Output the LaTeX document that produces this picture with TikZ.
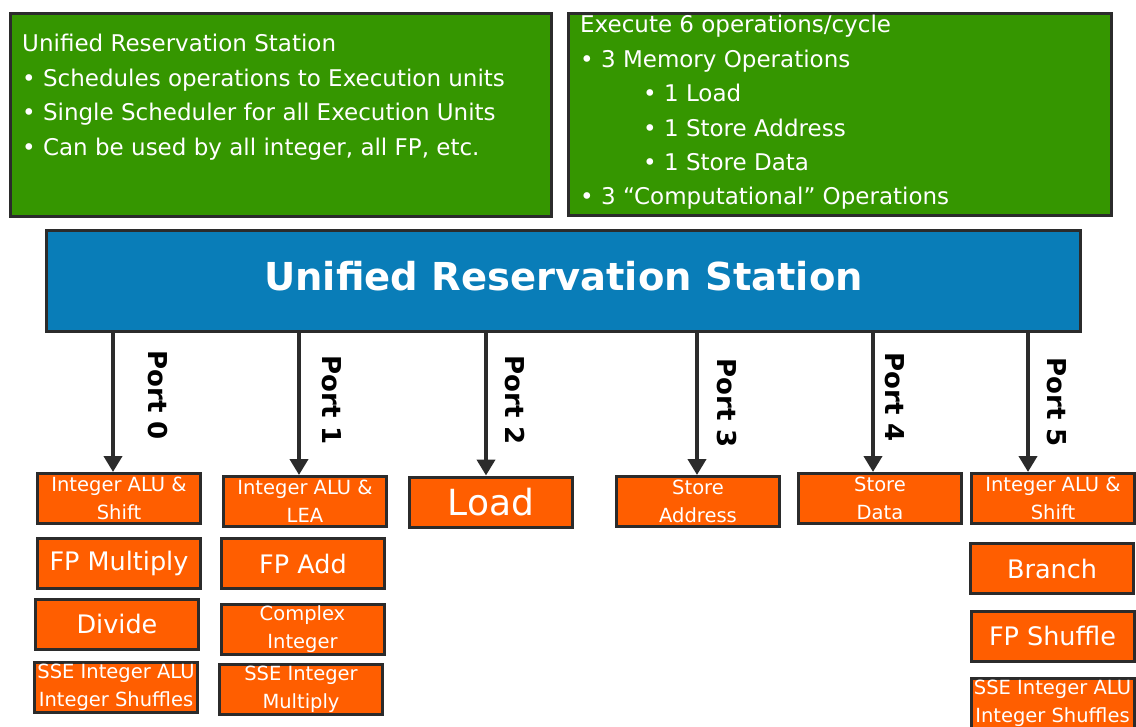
\documentclass[tikz,border=0pt]{standalone}
\usepackage{fontspec}
\setmainfont{DejaVu Sans}
\usetikzlibrary{arrows.meta}
\definecolor{rsgreen}{HTML}{359600}
\definecolor{rsblue}{HTML}{097DB8}
\definecolor{euorange}{HTML}{FF5E00}
\definecolor{edgegray}{HTML}{2B2B2B}
\begin{document}
\begin{tikzpicture}[x=1pt,y=-1pt,
  notebox/.style={draw=edgegray, line width=3pt, fill=rsgreen, inner sep=0pt,
    minimum width=541pt, minimum height=203pt},
  notetxt/.style={anchor=base west, inner sep=0pt, text=white,
    font=\fontsize{23}{34.6}\selectfont},
  station/.style={draw=edgegray, line width=3.5pt, fill=rsblue, inner sep=0pt,
    minimum width=1034pt, minimum height=101pt},
  unit/.style={draw=edgegray, line width=3pt, fill=euorange, text=white,
    inner sep=0pt, align=center, minimum width=163pt, minimum height=50pt},
  small/.style={font=\fontsize{19.5}{28}\selectfont},
  mid/.style={font=\fontsize{25.5}{28}\selectfont},
  big/.style={font=\fontsize{36}{38}\selectfont},
  portline/.style={draw=edgegray, line width=4pt,
    -{Triangle[length=16pt,width=18pt]}},
  portlbl/.style={rotate=-90, inner sep=0pt, text=black,
    font=\fontsize{26}{28}\selectfont\bfseries}
]
\useasboundingbox (0,0) rectangle (1136,727);
\fill[white] (0,0) rectangle (1136,727);

% description panels
\node[notebox] (noteL) at (281,115) {};
\node[notebox, minimum width=543pt, minimum height=202pt] (noteR) at (840,114.5) {};

\node[notetxt] (nl1) at (22,52) {Unified Reservation Station};
\node[notetxt] (nl2) at (22,86.5) {• Schedules operations to Execution units};
\node[notetxt] (nl3) at (22,121) {• Single Scheduler for all Execution Units};
\node[notetxt] (nl4) at (22,155.5) {• Can be used by all integer, all FP, etc.};

\node[notetxt] (nr1) at (580,33) {Execute 6 operations/cycle};
\node[notetxt] (nr2) at (580,68) {• 3 Memory Operations};
\node[notetxt] (nr3) at (643,102) {• 1 Load};
\node[notetxt] (nr4) at (643,137) {• 1 Store Address};
\node[notetxt] (nr5) at (643,171) {• 1 Store Data};
\node[notetxt] (nr6) at (580,205) {• 3 “Computational” Operations};

% scheduler
\node[station] (rs) at (563.5,281) {};
\node[anchor=base, inner sep=0pt, text=white,
  font=\fontsize{38.5}{40}\selectfont\bfseries] (title) at (563.5,291)
  {Unified Reservation Station};

% execution units, port 0
\node[unit, small] (u0a) at (119,498.5) {Integer ALU \&\\Shift};
\node[unit, mid]   (u0b) at (119,563.5) {FP Multiply};
\node[unit, mid]   (u0c) at (117,624)   {Divide};
\node[unit, small] (u0d) at (116,687)   {SSE Integer ALU\\Integer Shuffles};
% port 1
\node[unit, small] (u1a) at (305,501.5) {Integer ALU \&\\LEA};
\node[unit, mid]   (u1b) at (303,563.5) {FP Add};
\node[unit, small] (u1c) at (302.5,629.5) {Complex\\Integer};
\node[unit, small] (u1d) at (301,689.5) {SSE Integer\\Multiply};
% ports 2-4
\node[unit, big]   (u2a) at (491,502)   {Load};
\node[unit, small] (u3a) at (698,501.5) {Store\\Address};
\node[unit, small] (u4a) at (880,498.5) {Store\\Data};
% port 5
\node[unit, small] (u5a) at (1053,498.5) {Integer ALU \&\\Shift};
\node[unit, mid]   (u5b) at (1052,568.5) {Branch};
\node[unit, mid]   (u5c) at (1052.5,636) {FP Shuffle};
\node[unit, small] (u5d) at (1052.5,703.5) {SSE Integer ALU\\Integer Shuffles};

% dispatch ports
\coordinate (p0) at (113,0);
\coordinate (p1) at (299,0);
\coordinate (p2) at (486,0);
\coordinate (p3) at (697,0);
\coordinate (p4) at (873,0);
\coordinate (p5) at (1028,0);
\draw[portline] (rs.south -| p0) -- (u0a.north -| p0);
\draw[portline] (rs.south -| p1) -- (u1a.north -| p1);
\draw[portline] (rs.south -| p2) -- (u2a.north -| p2);
\draw[portline] (rs.south -| p3) -- (u3a.north -| p3);
\draw[portline] (rs.south -| p4) -- (u4a.north -| p4);
\draw[portline] (rs.south -| p5) -- (u5a.north -| p5);

\node[portlbl] (l0) at (158,395) {Port 0};
\node[portlbl] (l1) at (332,400) {Port 1};
\node[portlbl] (l2) at (515,400) {Port 2};
\node[portlbl] (l3) at (727,403) {Port 3};
\node[portlbl] (l4) at (895,397) {Port 4};
\node[portlbl] (l5) at (1057,402) {Port 5};
\end{tikzpicture}
\end{document}
